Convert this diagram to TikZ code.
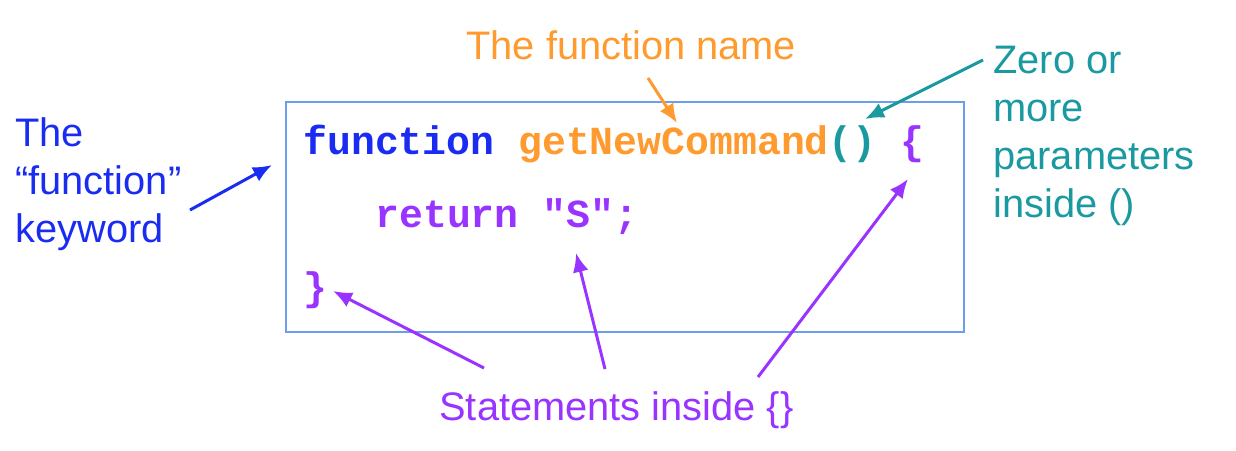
\documentclass[tikz,border=0pt]{standalone}
\usepackage{fontspec}
\setmainfont{Liberation Sans}
\setmonofont{Liberation Mono}
\usetikzlibrary{arrows.meta, positioning}

\definecolor{kwblue}{HTML}{1A2CF2}
\definecolor{nameorange}{HTML}{FF9A2E}
\definecolor{parteal}{HTML}{1A9AA0}
\definecolor{stmtpurple}{HTML}{9933FF}
\definecolor{boxblue}{HTML}{6D9EEB}

\tikzset{
    code/.style={font=\ttfamily\bfseries\fontsize{19.9}{24}\selectfont, inner sep=0pt, anchor=base west},
    label/.style={font=\fontsize{19.9}{24}\selectfont, inner sep=0pt, anchor=base west, align=left},
    pointer/.style={line width=1.5pt, -{Latex[length=9.5pt, width=8pt]}},
}

\begin{document}
\begin{tikzpicture}[x=0.5pt, y=-0.5pt]
    \useasboundingbox (0, 0) rectangle (1236, 450);

    % The code box
    \node[draw=boxblue, line width=0.8pt, minimum width=339pt, minimum height=115pt, inner sep=0pt] (box) at (625, 217) {};

    \node[code] (line1) at (303, 154) {\textcolor{kwblue}{function} \textcolor{nameorange}{getNewCommand}\textcolor{parteal}{()} \textcolor{stmtpurple}{\{}};
    \node[code, stmtpurple] (line2) at (375, 227) {return "S";};
    \node[code, stmtpurple] (line3) at (303, 300) {\}};

    % Labels (base = last line)
    \node[label, kwblue] (kwlabel) at (15, 242) {The\\“function”\\keyword};
    \node[label, nameorange] (namelabel) at (466, 59) {The function name};
    \node[label, parteal] (parlabel) at (993, 217) {Zero or\\more\\parameters\\inside ()};
    \node[label, stmtpurple] (stmtlabel) at (439, 420) {Statements inside \{\}};

    % Arrow ends
    \coordinate (kwtail) at (190, 210);
    \coordinate (kwtip) at (272, 165);
    \coordinate (nametail) at (648, 78);
    \coordinate (nametip) at (677, 123);
    \coordinate (partail) at (983, 60);
    \coordinate (partip) at (865, 119);
    \coordinate (rbtail) at (484, 368);
    \coordinate (rbtip) at (333, 291);
    \coordinate (rettail) at (605, 369);
    \coordinate (rettip) at (576, 253);
    \coordinate (lbtail) at (758, 377);
    \coordinate (lbtip) at (908, 179);

    \draw[pointer, kwblue] (kwtail) -- (kwtip);
    \draw[pointer, nameorange] (nametail) -- (nametip);
    \draw[pointer, parteal] (partail) -- (partip);
    \draw[pointer, stmtpurple] (rbtail) -- (rbtip);
    \draw[pointer, stmtpurple] (rettail) -- (rettip);
    \draw[pointer, stmtpurple] (lbtail) -- (lbtip);
\end{tikzpicture}
\end{document}
